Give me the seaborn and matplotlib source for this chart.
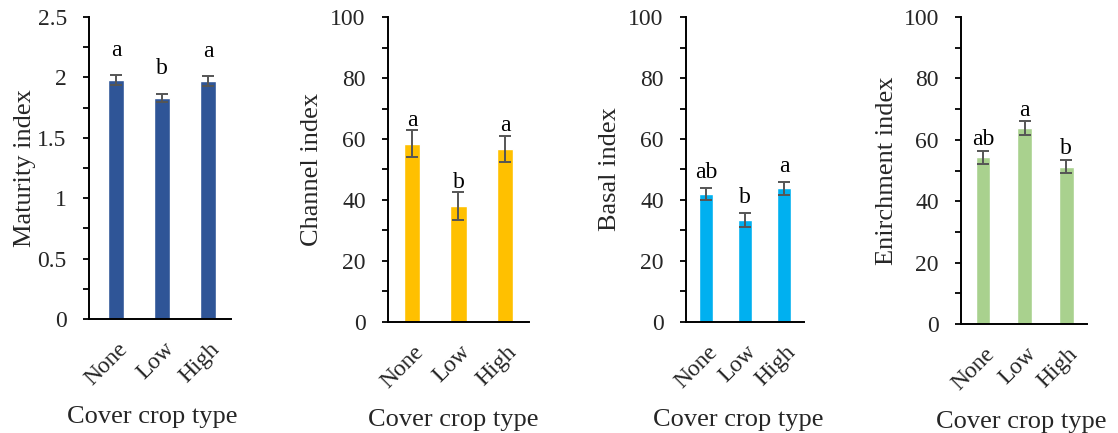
import numpy as np
import pandas as pd
import matplotlib
matplotlib.use("Agg")
import matplotlib.pyplot as plt
import matplotlib.ticker as ticker
import matplotlib.transforms as mtransforms
import seaborn as sns

# --- Data ---
CATEGORIES = ["None", "Low", "High"]

MATURITY = [1.98, 1.83, 1.97]
MATURITY_ERR = [0.04, 0.035, 0.04]
MATURITY_LETTERS = ["a", "b", "a"]

CHANNEL = [58.4, 38.0, 56.7]
CHANNEL_ERR = [4.4, 4.6, 4.4]
CHANNEL_LETTERS = ["a", "b", "a"]

BASAL = [42.0, 33.4, 43.9]
BASAL_ERR = [2.0, 2.3, 2.1]
BASAL_LETTERS = ["ab", "b", "a"]

ENRICHMENT = [54.3, 63.9, 51.3]
ENRICHMENT_ERR = [2.1, 2.2, 2.2]
ENRICHMENT_LETTERS = ["ab", "a", "b"]

PANELS = [
    ("Maturity index", MATURITY, MATURITY_ERR, MATURITY_LETTERS, "#2F5597", 2.5, 0.5, 0.25),
    ("Channel index", CHANNEL, CHANNEL_ERR, CHANNEL_LETTERS, "#FFC000", 100, 20, 10),
    ("Basal index", BASAL, BASAL_ERR, BASAL_LETTERS, "#00B0F0", 100, 20, 10),
    ("Enirchment index", ENRICHMENT, ENRICHMENT_ERR, ENRICHMENT_LETTERS, "#A9D18E", 100, 20, 10),
]

# layout tweaks per panel
AX_RECTS = [
    [0.0796, 0.2633, 0.1270, 0.6974],
    [0.3470, 0.2564, 0.1262, 0.7043],
    [0.6136, 0.2564, 0.1055, 0.7043],
    [0.8596, 0.2517, 0.1127, 0.7090],
]
XLIMS = [(-0.59, 2.5), (-0.52, 2.52), (-0.51, 2.51), (-0.53, 2.5)]
LETTER_GAP = [14, 3, 7, 4]          # points above error bar top
YLABEL_PAD = [1, 5, 5, 4]
XLABEL_X = [0.444, 0.465, 0.44, 0.476]

sns.set_theme(style="white")
plt.rcParams['font.family'] = ['Liberation Serif', 'DejaVu Serif']

fig = plt.figure(figsize=(11.18, 4.33), dpi=100)
shift = mtransforms.ScaledTranslation(1 / 100, 0, fig.dpi_scale_trans)

for i, (ylabel, vals, errs, letters, color, ymax, major, minor) in enumerate(PANELS):
    ax = fig.add_axes(AX_RECTS[i])
    df = pd.DataFrame({"Cover": CATEGORIES, "Value": vals})
    sns.barplot(data=df, x="Cover", y="Value", color=color, width=0.35,
                saturation=1, errorbar=None, ax=ax, order=CATEGORIES)
    ax.errorbar(range(len(CATEGORIES)), vals, yerr=errs, fmt="none",
                ecolor="#555555", elinewidth=1.4, capsize=4.5, capthick=1.4, zorder=5)

    for j, (v, e, lab) in enumerate(zip(vals, errs, letters)):
        ax.annotate(lab, xy=(j, v + e), xytext=(0, LETTER_GAP[i]), textcoords="offset points",
                    ha="center", va="baseline", fontsize=17, color="black")

    ax.set_xlim(*XLIMS[i])
    ax.set_ylim(0, ymax)
    ax.yaxis.set_major_locator(ticker.MultipleLocator(major))
    ax.yaxis.set_minor_locator(ticker.MultipleLocator(minor))
    if ymax < 10:
        ax.yaxis.set_major_formatter(ticker.FuncFormatter(lambda v, p: f"{v:g}"))

    for s in ["top", "right"]:
        ax.spines[s].set_visible(False)
    for s in ["left", "bottom"]:
        ax.spines[s].set_color("black")
        ax.spines[s].set_linewidth(1.4)

    ax.tick_params(axis="y", which="major", direction="out", length=4, width=1.3,
                   color="black", labelsize=17, left=True, pad=12)
    ax.tick_params(axis="y", which="minor", direction="out", length=4, width=1.3,
                   color="black", left=True)
    ax.tick_params(axis="x", which="both", length=0, labelsize=17, pad=14)
    for lbl in ax.get_xticklabels():
        lbl.set_rotation(45)
        lbl.set_ha("right")
        lbl.set_rotation_mode("anchor")
        lbl.set_transform(lbl.get_transform() + shift)

    ax.set_ylabel(ylabel, fontsize=19, labelpad=YLABEL_PAD[i])
    ax.set_xlabel("Cover crop type", fontsize=19, labelpad=12)
    ax.xaxis.label.set_x(XLABEL_X[i])

fig.savefig("out.png", dpi=100)
